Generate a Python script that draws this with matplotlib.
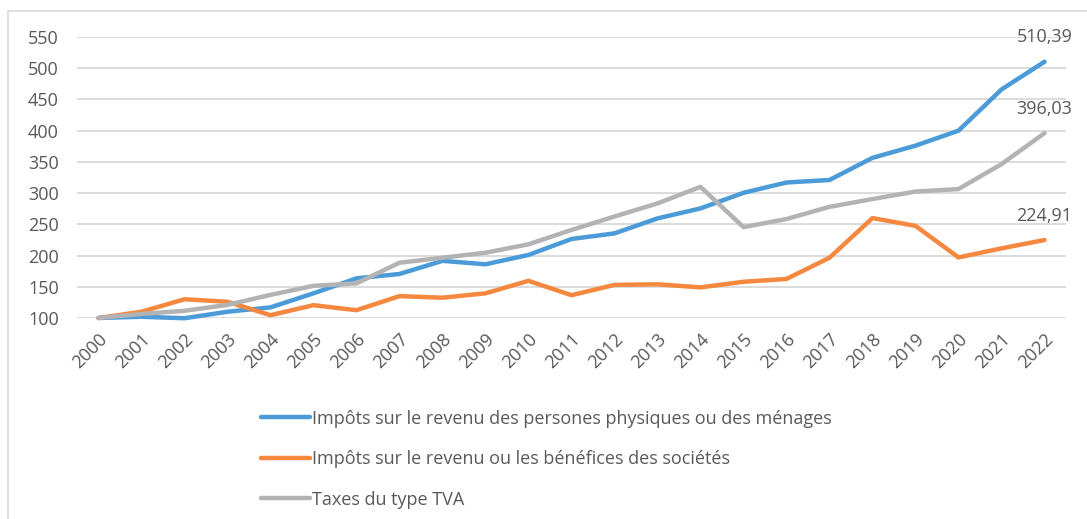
import matplotlib.pyplot as plt
from matplotlib.patches import Rectangle

years = [str(y) for y in range(2000, 2023)]

menages = [100, 102, 99.6, 110, 117, 139.5, 163.5, 170.5, 191.5, 186, 201,
           226.5, 235.5, 259.5, 275.5, 300.5, 317, 321, 356.5, 376, 400,
           466, 510.39]
societes = [100, 110, 130, 126, 104.5, 120.5, 112.5, 135, 132.5, 139.5, 159.5,
            136.5, 153, 154, 149, 158, 162.5, 196.5, 260, 247.5, 197,
            211.5, 224.91]
tva = [100, 106.5, 111.5, 121, 137, 151.5, 155.5, 188.5, 196.5, 204.5, 218,
       241, 262.5, 283.5, 310, 245.5, 258.5, 278, 290.5, 302.5, 306.5,
       346.5, 396.03]

series_names = ["Impôts sur le revenu des persones physiques ou des ménages",
                "Impôts sur le revenu ou les bénéfices des sociétés",
                "Taxes du type TVA"]
end_labels = ["510,39", "224,91", "396,03"]
colors = ["#4A9BD7", "#F5883F", "#B3B3B5"]

plt.rcParams['font.family'] = ['Open Sans', 'DejaVu Sans']
txt = "#595959"
fs = 13

fig = plt.figure(figsize=(10.87, 5.19), dpi=100)
ax = fig.add_axes([0.0708, 0.3873, 0.9099, 0.5414])

x = list(range(len(years)))
for vals, name, col in zip([menages, societes, tva], series_names, colors):
    ax.plot(x, vals, color=col, lw=3.2, label=name, clip_on=False,
            solid_capstyle='round', solid_joinstyle='round')

# end-of-series labels
for vals, lab in zip([menages, societes, tva], end_labels):
    ax.annotate(lab, (x[-1], vals[-1]), xytext=(0, 11), textcoords='offset points',
                ha='center', va='bottom', fontsize=fs, color=txt)

ax.set_xlim(-0.5, len(years) - 0.5)
ax.set_ylim(100, 550)
ax.set_yticks(range(100, 551, 50))
ax.set_xticks(x)
ax.set_xticklabels(years, rotation=45, ha='right', va='top',
                   rotation_mode='anchor')
ax.tick_params(length=0, labelsize=fs, colors=txt)
ax.tick_params(axis='y', pad=13)
ax.tick_params(axis='x', pad=9)
ax.grid(axis='y', color='#D9D9D9', lw=1.3)
ax.set_axisbelow(True)
for s in ax.spines.values():
    s.set_visible(False)

h, l = ax.get_legend_handles_labels()
fig.legend(h, l, loc='upper left', bbox_to_anchor=(0.225, 0.242),
           frameon=False, fontsize=fs, handlelength=2.75, handletextpad=0.1,
           labelspacing=1.25, labelcolor=txt)

fig.patches.append(Rectangle((8 / 1087, -0.01), 1.0, 1 - 11 / 519 + 0.01,
                             transform=fig.transFigure, fill=False,
                             ec='#D9D9D9', lw=1.2))

fig.savefig("out.png", dpi=100)
